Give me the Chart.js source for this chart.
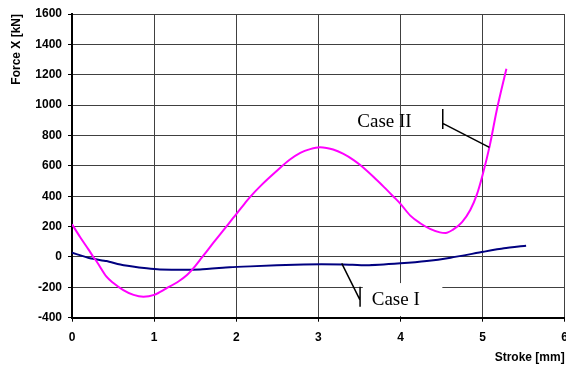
<!DOCTYPE html>
<html>
<head>
<meta charset="utf-8">
<script src="https://cdn.jsdelivr.net/npm/chart.js@4/dist/chart.umd.min.js"></script>
<style>
  html, body { margin: 0; padding: 0; background: #fff; overflow: hidden; }
  #wrap { width: 566px; height: 366px; position: relative; }
</style>
</head>
<body>
<div id="wrap"><canvas id="forceChart"></canvas></div>
<script>
// --- DATA ---
const caseIIStroke = [0, 0.1, 0.2, 0.26, 0.3, 0.42, 0.5, 0.625, 0.75, 0.87, 1.0, 1.15, 1.3, 1.4, 1.5, 1.58, 1.72, 1.85, 1.96, 2.1, 2.17, 2.3, 2.5, 2.65, 2.78, 2.9, 3.02, 3.1, 3.18, 3.3, 3.43, 3.51, 3.67, 3.8, 3.91, 4.0, 4.12, 4.24, 4.36, 4.48, 4.55, 4.64, 4.75, 4.85, 4.93, 5.0, 5.09, 5.17, 5.29];
const caseIIForce  = [215, 130, 50, 0, -30, -130, -170, -218, -250, -262, -250, -207, -160, -119, -60, -5, 92, 180, 255, 350, 396, 470, 570, 640, 686, 710, 722, 718, 708, 680, 638, 605, 528, 460, 400, 350, 272, 222, 185, 162, 158, 180, 230, 309, 410, 540, 740, 960, 1240];

const caseIStroke = [0, 0.22, 0.42, 0.63, 0.91, 1.07, 1.56, 1.92, 2.17, 2.82, 3.3, 3.59, 4.0, 4.32, 4.61, 5.01, 5.26, 5.53];
const caseIForce  = [28, -9, -27, -55, -75, -82, -82, -68, -62, -49, -49, -55, -42, -27, -5, 34, 57, 74];

const xTicks = [0, 1, 2, 3, 4, 5, 6];
const yTicks = [-400, -200, 0, 200, 400, 600, 800, 1000, 1200, 1400, 1600];

const toPoints = (xs, ys) => xs.map((x, i) => ({ x: x, y: ys[i] }));

// --- LABELS (drawn on top, placed in data units) ---
const labelsPlugin = {
    id: 'caseLabels',
    afterDatasetsDraw(chart) {
        const ctx = chart.ctx;
        const sx = chart.scales.x, sy = chart.scales.y;
        const px = v => sx.getPixelForValue(v);
        const py = v => sy.getPixelForValue(v);
        ctx.save();
        // white box behind "Case I"
        ctx.fillStyle = '#fff';
        ctx.fillRect(px(3.541), py(-172), px(4.51) - px(3.541), py(-389) - py(-172));

        ctx.strokeStyle = '#000';
        ctx.lineWidth = 1.5;
        ctx.beginPath();
        // Case II leader
        ctx.moveTo(px(4.515), py(974)); ctx.lineTo(px(4.515), py(843));
        ctx.moveTo(px(4.515), py(880)); ctx.lineTo(px(5.083), py(722));
        // Case I leader
        ctx.moveTo(px(3.508), py(-196)); ctx.lineTo(px(3.508), py(-328));
        ctx.moveTo(px(3.285), py(-42)); ctx.lineTo(px(3.508), py(-284));
        ctx.stroke();

        ctx.fillStyle = '#000';
        ctx.font = '19px "Liberation Serif", "Times New Roman", serif';
        ctx.textAlign = 'left';
        ctx.textBaseline = 'alphabetic';
        ctx.fillText('Case II', px(3.475), py(859));
        ctx.fillText('Case I', px(3.65), py(-317));
        ctx.restore();
    }
};

// --- CHART ---
const boldFont = () => ({ family: '"Liberation Sans", Arial, sans-serif', size: 12, weight: 'bold' });

new Chart(document.getElementById('forceChart'), {
    type: 'line',
    data: {
        datasets: [
            { label: 'Case II', data: toPoints(caseIIStroke, caseIIForce), borderColor: '#ff00ff', borderWidth: 2, pointRadius: 0, cubicInterpolationMode: 'monotone', fill: false },
            { label: 'Case I', data: toPoints(caseIStroke, caseIForce), borderColor: '#000080', borderWidth: 2, pointRadius: 0, tension: 0.2, fill: false }
        ]
    },
    options: {
        responsive: true,
        maintainAspectRatio: false,
        animation: false,
        layout: { padding: { top: 14, right: 1.3, left: 0, bottom: 0 } },
        plugins: { legend: { display: false }, tooltip: { enabled: false } },
        scales: {
            x: {
                type: 'linear', min: 0, max: 6,
                afterBuildTicks: s => { s.ticks = xTicks.map(v => ({ value: v })); },
                afterFit: s => { s.height = 48.3; s.paddingRight = 0; s.paddingLeft = 0; },
                ticks: { color: '#000', font: boldFont(), padding: 9, maxRotation: 0, callback: v => String(v) },
                grid: { color: '#404040', lineWidth: 1, tickLength: 4, tickColor: '#000' },
                border: { color: '#000', width: 2 },
                title: { display: true, text: 'Stroke [mm]', align: 'end', color: '#000', font: boldFont(), padding: { top: 0, bottom: 1 } }
            },
            y: {
                type: 'linear', min: -400, max: 1600,
                afterBuildTicks: s => { s.ticks = yTicks.map(v => ({ value: v })); },
                afterFit: s => { s.width = 72; s.paddingTop = 0; s.paddingBottom = 0; },
                ticks: { color: '#000', font: boldFont(), padding: 6, callback: v => String(v) },
                grid: { color: '#404040', lineWidth: 1, tickLength: 4, tickColor: '#000' },
                border: { color: '#000', width: 2 },
                title: { display: true, text: 'Force X [kN]', align: 'end', color: '#000', font: boldFont(), padding: { top: 9, bottom: 0 } }
            }
        }
    },
    plugins: [labelsPlugin]
});
</script>
</body>
</html>
